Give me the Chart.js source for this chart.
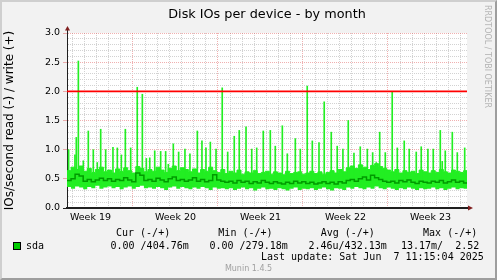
<!DOCTYPE html>
<html>
<head>
<meta charset="utf-8">
<script src="https://cdn.jsdelivr.net/npm/chart.js@4.4.1/dist/chart.umd.min.js"></script>
<style>
  html, body { margin: 0; padding: 0; }
  body { width: 497px; height: 280px; position: relative; overflow: hidden; background: #f2f2f2; }
  #frame { position: absolute; left: 0; top: 0; width: 497px; height: 280px; box-sizing: border-box;
    border-style: solid; border-width: 2px; border-color: #cfcfcf #9e9e9e #9e9e9e #cfcfcf; }
  #chart { position: absolute; left: 0; top: 0; }
  .t { position: absolute; white-space: pre; color: #000; }
  .mono { font-family: "DejaVu Sans Mono", monospace; font-size: 10px; line-height: 12px; }
  #title { left: 0; width: 534px; text-align: center; top: 6px; font: 12.8px/15px "DejaVu Sans", sans-serif; }
  #swatch { position: absolute; left: 13px; top: 242px; width: 6px; height: 6px; border: 1px solid #000; background: #00cc00; }
  #munin { left: 0; width: 497px; text-align: center; top: 264px; font: 8px/10px "DejaVu Sans", sans-serif; color: #a0a0a0; }
  #mark { left: 492px; top: 5px; transform-origin: 0 0; transform: rotate(90deg);
    font: 8px/10px "DejaVu Sans", sans-serif; color: #b4b4b4; }
</style>
</head>
<body>
<div id="frame"></div>
<canvas id="chart" width="497" height="280"></canvas>
<div class="t" id="title">Disk IOs per device - by month</div>
<div class="t" id="mark">RRDTOOL / TOBI OETIKER</div>
<div class="t mono" style="left:116px; top:227px;">Cur (-/+)        Min (-/+)        Avg (-/+)        Max (-/+)</div>
<div id="swatch"></div>
<div class="t mono" style="left:26px; top:239.5px;">sda</div>
<div class="t mono" style="left:110.5px; top:239.5px;">0.00 /404.76m</div>
<div class="t mono" style="left:209.5px; top:239.5px;">0.00 /279.18m</div>
<div class="t mono" style="left:308.5px; top:239.5px;">2.46u/432.13m</div>
<div class="t mono" style="left:401px; top:239.5px;">13.17m/  2.52</div>
<div class="t mono" style="left:261px; top:251.2px;">Last update: Sat Jun  7 11:15:04 2025</div>
<div class="t" id="munin">Munin 1.4.5</div>
<script>
// x values are days counted from the start of Week 19
const weekLabels = ['Week 19', 'Week 20', 'Week 21', 'Week 22', 'Week 23'];
const weekStarts = [0, 7, 14, 21, 28];
const sampleStart = 1.565;      // first 8-hour sample
const sampleStep = 1 / 3;

// write IOs/s, upper and lower edge of the sample band, plus average
const bandHigh = [
  0.64,0.70,0.66,0.72,0.63,0.68,0.61,0.66,0.70,0.62,
  0.65,0.60,0.67,0.63,0.69,0.64,0.60,0.71,0.68,0.62,
  0.66,0.63,0.70,0.65,0.61,0.68,0.72,0.64,0.69,0.66,
  0.62,0.67,0.60,0.66,0.63,0.70,0.64,0.61,0.66,0.59,
  0.63,0.60,0.65,0.58,0.62,0.60,0.64,0.59,0.61,0.63,
  0.58,0.62,0.60,0.57,0.63,0.59,0.61,0.62,0.58,0.60,
  0.63,0.59,0.62,0.58,0.61,0.64,0.60,0.66,0.62,0.69,
  0.72,0.68,0.74,0.70,0.66,0.73,0.76,0.71,0.68,0.65,
  0.62,0.66,0.60,0.64,0.61,0.63,0.59,0.65,0.62,0.60,
  0.64,0.61,0.66,0.62,0.60,0.65,0.63,0.61,0.64,0.62
];
const bandLow = [
  0.36,0.33,0.37,0.35,0.32,0.36,0.34,0.38,0.33,0.35,
  0.37,0.34,0.36,0.32,0.35,0.37,0.33,0.36,0.38,0.34,
  0.35,0.33,0.36,0.34,0.31,0.35,0.37,0.33,0.36,0.34,
  0.32,0.35,0.33,0.36,0.34,0.31,0.35,0.33,0.34,0.32,
  0.34,0.31,0.33,0.35,0.32,0.34,0.30,0.33,0.35,0.32,
  0.33,0.31,0.34,0.32,0.30,0.33,0.35,0.31,0.33,0.32,
  0.34,0.31,0.33,0.35,0.32,0.30,0.34,0.33,0.31,0.35,
  0.33,0.36,0.34,0.32,0.35,0.33,0.37,0.34,0.32,0.35,
  0.33,0.31,0.34,0.32,0.35,0.33,0.31,0.34,0.32,0.33,
  0.35,0.32,0.34,0.31,0.33,0.35,0.32,0.34,0.33,0.35
];
const avgWrite = [
  0.47,0.50,0.58,0.55,0.46,0.49,0.45,0.48,0.51,0.47,
  0.50,0.46,0.49,0.47,0.52,0.48,0.45,0.60,0.56,0.47,
  0.49,0.46,0.51,0.48,0.45,0.50,0.53,0.47,0.49,0.46,
  0.48,0.52,0.46,0.49,0.45,0.47,0.57,0.48,0.46,0.44,
  0.46,0.43,0.47,0.44,0.46,0.42,0.45,0.43,0.47,0.44,
  0.42,0.45,0.43,0.41,0.44,0.42,0.46,0.43,0.45,0.42,
  0.44,0.41,0.43,0.45,0.42,0.44,0.41,0.45,0.43,0.47,
  0.49,0.46,0.50,0.53,0.48,0.56,0.52,0.49,0.46,0.44,
  0.46,0.43,0.47,0.45,0.48,0.44,0.42,0.46,0.44,0.43,
  0.46,0.44,0.47,0.43,0.45,0.48,0.44,0.46,0.43,0.45
];

// short bursts above the band
const spikeDays = [
  1.70,2.22,2.33,2.50,2.91,3.32,3.73,4.06,4.34,4.75,5.35,5.71,6.04,6.37,6.81,
  7.35,7.77,8.10,8.38,8.79,9.28,9.69,9.91,10.32,10.76,11.28,11.69,12.30,12.68,13.01,
  13.37,13.84,14.35,14.80,15.34,15.75,16.31,16.78,17.19,17.73,18.31,18.72,19.30,19.71,20.37,
  20.78,21.35,21.77,22.32,22.75,23.33,23.82,24.29,24.73,25.20,25.72,26.30,26.74,27.04,27.32,
  27.78,28.35,28.77,29.34,29.75,30.33,30.74,31.29,31.73,32.31,32.47,32.72,33.30,33.71,34.32
];
const spikePeaks = [
  1.00,0.91,1.21,2.52,0.81,1.32,1.00,0.78,1.35,1.00,1.04,1.03,0.91,1.35,1.03,
  2.07,1.95,0.85,0.86,0.98,0.97,0.97,0.75,1.10,0.96,1.01,0.93,1.32,1.15,1.03,
  1.13,1.01,2.06,0.96,1.23,1.33,1.39,1.01,1.03,1.32,1.33,1.06,1.41,0.93,1.19,
  1.01,2.09,1.15,1.12,1.82,1.30,1.06,1.01,1.50,0.94,1.05,1.01,0.95,0.78,1.30,
  0.95,1.99,1.03,1.15,1.01,0.96,1.05,1.01,1.01,1.33,0.80,0.98,1.30,0.95,1.03
];
const hruleLevels = [2.0];

const X_MIN = 1.565, X_MAX = 34.51;
const GRID = '#d2d2d2';
const MGRID = 'rgba(222,79,79,0.45)';
const BAND = '#22ee22';
const AVG = '#009a00';

const pts = arr => arr.map((v, i) => ({ x: sampleStart + i * sampleStep, y: v }));

const frameBits = {
  id: 'frameBits',
  beforeDraw(chart) {
    const { ctx, chartArea: a } = chart;
    ctx.save();
    ctx.fillStyle = '#ffffff';
    ctx.fillRect(a.left, a.top, a.right - a.left, a.bottom - a.top);
    ctx.restore();
  },
  afterDraw(chart) {
    const { ctx, chartArea: a } = chart;
    ctx.save();
    ctx.strokeStyle = '#1f1f1f';
    ctx.lineWidth = 1;
    ctx.beginPath();
    ctx.moveTo(a.left + 0.5, a.top); ctx.lineTo(a.left + 0.5, a.top - 3);
    ctx.moveTo(a.right, a.bottom); ctx.lineTo(a.right + 2, a.bottom);
    ctx.stroke();
    ctx.fillStyle = '#801f1f';
    ctx.beginPath();
    ctx.moveTo(a.left - 2, a.top - 2.5); ctx.lineTo(a.left + 3, a.top - 2.5); ctx.lineTo(a.left + 0.5, a.top - 7);
    ctx.closePath(); ctx.fill();
    ctx.beginPath();
    ctx.moveTo(a.right + 1, a.bottom - 2.5); ctx.lineTo(a.right + 1, a.bottom + 2.5); ctx.lineTo(a.right + 6, a.bottom);
    ctx.closePath(); ctx.fill();
    ctx.restore();
  }
};

new Chart(document.getElementById('chart').getContext('2d'), {
  type: 'line',
  data: {
    datasets: [
      { data: pts(bandLow), borderWidth: 0, pointRadius: 0, stepped: true, fill: false, order: 4 },
      { data: pts(bandHigh), borderWidth: 1, borderColor: BAND, backgroundColor: BAND,
        pointRadius: 0, stepped: true, fill: '-1', order: 3 },
      { type: 'bar', data: spikeDays.map((d, i) => ({ x: d, y: [0.45, spikePeaks[i]] })),
        backgroundColor: BAND, barThickness: 1, order: 2 },
      { data: pts(avgWrite), borderWidth: 1.5, borderColor: AVG, pointRadius: 0, stepped: true, fill: false, order: 1 },
      { data: hruleLevels.flatMap(v => [{ x: X_MIN, y: v }, { x: X_MAX, y: v }]),
        borderWidth: 1.6, borderColor: '#ff0000', pointRadius: 0, fill: false, order: 0 }
    ]
  },
  options: {
    responsive: false,
    animation: false,
    layout: { padding: { left: 0, right: 30, top: 33, bottom: 52 } },
    plugins: { legend: { display: false }, tooltip: { enabled: false } },
    scales: {
      x: {
        type: 'linear', min: X_MIN, max: X_MAX, offset: false,
        afterBuildTicks: s => {
          const t = [];
          for (let d = 2; d <= 34; d++) t.push({ value: d });
          weekStarts.forEach(w => t.push({ value: w + 3.5 }));
          s.ticks = t.sort((a, b) => a.value - b.value);
        },
        afterFit: s => { s.height = 20; },
        grid: {
          offset: false, drawTicks: false,
          color: c => {
            const v = c.tick.value;
            if (v % 1 !== 0) return 'rgba(0,0,0,0)';
            return v % 7 === 0 ? MGRID : GRID;
          }
        },
        border: { color: '#1f1f1f', width: 2, dash: [1, 1] },
        ticks: {
          autoSkip: false, maxRotation: 0, padding: 4, color: '#000',
          font: { family: 'DejaVu Sans', size: 9.5 },
          callback: v => {
            const i = weekStarts.indexOf(v - 3.5);
            return i >= 0 ? weekLabels[i] : '';
          }
        }
      },
      y: {
        min: 0, max: 3,
        afterBuildTicks: s => {
          const t = [];
          for (let k = 0; k <= 30; k++) t.push({ value: k / 10 });
          s.ticks = t;
        },
        afterFit: s => { s.width = 67; },
        grid: {
          tickLength: 4,
          color: c => {
            const k = Math.round(c.tick.value * 10);
            if (k === 0) return 'rgba(0,0,0,0)';
            return k % 5 === 0 ? MGRID : GRID;
          },
          tickColor: c => {
            const k = Math.round(c.tick.value * 10);
            if (k === 0) return '#1f1f1f';
            return k % 5 === 0 ? MGRID : 'rgba(0,0,0,0)';
          }
        },
        border: { color: '#1f1f1f', width: 1, dash: [1, 1] },
        ticks: {
          autoSkip: false, padding: 3, color: '#000',
          font: { family: 'DejaVu Sans', size: 9.5 },
          callback: v => (Math.round(v * 10) % 5 === 0 ? v.toFixed(1) : '')
        },
        title: {
          display: true, text: 'IOs/second read (-) / write (+)', color: '#000',
          font: { family: 'DejaVu Sans', size: 12 }, padding: { top: 3, bottom: 0 }
        }
      }
    }
  },
  plugins: [frameBits]
});
</script>
</body>
</html>
